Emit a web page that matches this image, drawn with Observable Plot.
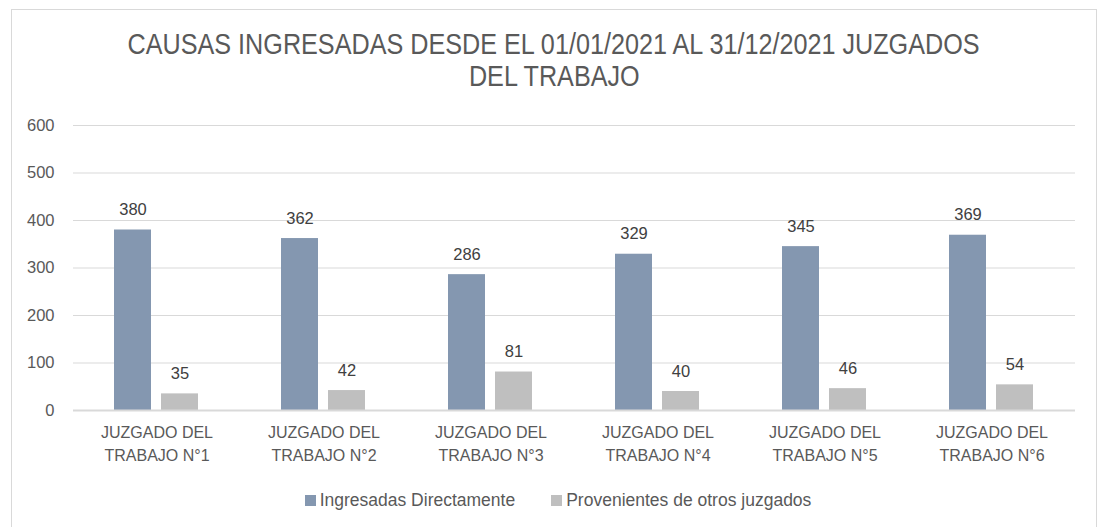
<!DOCTYPE html>
<html>
<head>
<meta charset="utf-8">
<script src="https://cdn.jsdelivr.net/npm/d3@7"></script>
<script src="https://cdn.jsdelivr.net/npm/@observablehq/plot@0.6"></script>
<style>
  html, body { margin: 0; padding: 0; background: #fff; }
  #frame { position: absolute; left: 11px; top: 9px; width: 1086px; height: 540px; border: 1px solid #D9D9D9; box-sizing: border-box; }
  #title { position: absolute; left: 4px; top: 28px; width: 1100px; text-align: center; font-family: "Liberation Sans", Arial, sans-serif; font-size: 29px; line-height: 32px; color: #595959; }
  #title span { display: inline-block; white-space: nowrap; transform-origin: center; }
  #chart { position: absolute; left: 0; top: 100px; }
  #legend { position: absolute; left: 8px; top: 490px; width: 1100px; display: flex; justify-content: center; font-family: "Liberation Sans", Arial, sans-serif; font-size: 17.5px; color: #595959; }
  .item { display: flex; align-items: center; margin: 0 18px; }
  .sw { width: 11px; height: 11px; margin-right: 4px; }
</style>
</head>
<body>
<div id="frame"></div>
<div id="title"><span id="t1">CAUSAS INGRESADAS DESDE EL 01/01/2021 AL 31/12/2021 JUZGADOS</span><br><span id="t2">DEL TRABAJO</span></div>
<div id="chart"></div>
<div id="legend"></div>
<script>
const categories = ["JUZGADO DEL\nTRABAJO N°1", "JUZGADO DEL\nTRABAJO N°2", "JUZGADO DEL\nTRABAJO N°3", "JUZGADO DEL\nTRABAJO N°4", "JUZGADO DEL\nTRABAJO N°5", "JUZGADO DEL\nTRABAJO N°6"];
const series = ["Ingresadas Directamente", "Provenientes de otros juzgados"];
const ingresadas = [380, 362, 286, 329, 345, 369];
const provenientes = [35, 42, 81, 40, 46, 54];
const yTicks = [0, 100, 200, 300, 400, 500, 600];
const colors = ["#8497B0", "#BFBFBF"];

const data = [];
categories.forEach((c, i) => {
  data.push({cat: c, serie: series[0], value: ingresadas[i]});
  data.push({cat: c, serie: series[1], value: provenientes[i]});
});

const font = "Liberation Sans, Arial, sans-serif";

const chart = Plot.plot({
  width: 1100,
  height: 375,
  marginLeft: 72,
  marginRight: 24,
  marginTop: 25,
  marginBottom: 65,
  style: { fontFamily: font, fontSize: "16px", color: "#595959", background: "transparent" },
  fx: { domain: categories, padding: 0 },
  x: { domain: series, paddingInner: 0.208, paddingOuter: 0.844, axis: null },
  y: { domain: [0, 600], ticks: yTicks },
  color: { domain: series, range: colors },
  marks: [
    Plot.gridY(yTicks, { stroke: "#D9D9D9", strokeOpacity: 1, strokeWidth: 1 }),
    Plot.axisY(yTicks, { tickSize: 0, tickPadding: 19, fill: "#595959", fontSize: 16.5, label: null }),
    Plot.barY(data, { fx: "cat", x: "serie", y: "value", fill: "serie" }),
    Plot.ruleY([0], { stroke: "#D9D9D9", strokeWidth: 2 }),
    Plot.text(data, { fx: "cat", x: "serie", y: "value", text: d => String(d.value), lineAnchor: "bottom", dy: -15, fill: "#404040", fontSize: 16.5 }),
    Plot.axisFx({ anchor: "bottom", tickSize: 0, tickPadding: 11, fill: "#595959", fontSize: 16, label: null, lineHeight: 1.45 })
  ]
});
document.getElementById("chart").appendChild(chart);

// fit title lines to the reference's condensed width
const t1 = document.getElementById("t1");
const t2 = document.getElementById("t2");
const s = 852 / t1.getBoundingClientRect().width;
t1.style.transform = `scaleX(${s})`;
t2.style.transform = `scaleX(${s})`;

const legend = document.getElementById("legend");
series.forEach((sr, i) => {
  const item = document.createElement("div");
  item.className = "item";
  const sw = document.createElement("div");
  sw.className = "sw";
  sw.style.background = colors[i];
  const t = document.createElement("span");
  t.textContent = sr;
  item.appendChild(sw);
  item.appendChild(t);
  legend.appendChild(item);
});
</script>
</body>
</html>
